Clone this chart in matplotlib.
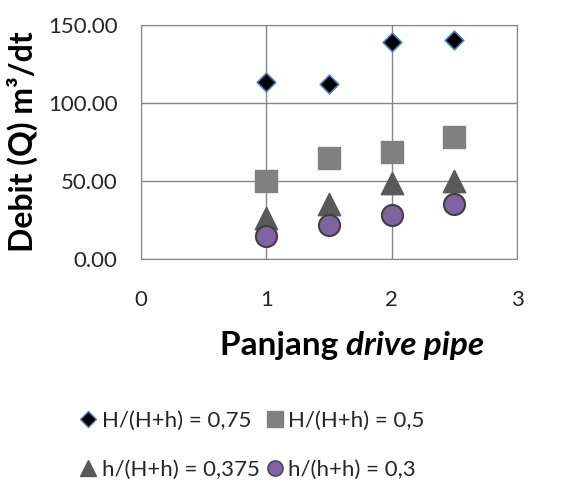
import matplotlib
matplotlib.use("Agg")
import matplotlib.pyplot as plt
from matplotlib.lines import Line2D

plt.rcParams['font.family'] = ['Lato', 'DejaVu Sans']

# pipe length (m)
pipe_length = [1, 1.5, 2, 2.5]

# debit (m3/dt) per ratio
q_075 = [113.5, 112.0, 139.0, 140.5]
q_05 = [50.0, 65.0, 68.5, 78.5]
q_0375 = [26.0, 35.0, 49.0, 50.0]
q_03 = [15.0, 21.5, 28.0, 35.5]

labels = ['H/(H+h) = 0,75', 'H/(H+h) = 0,5',
          'h/(H+h) = 0,375', 'h/(h+h) = 0,3']

fig = plt.figure(figsize=(5.69, 4.82), dpi=100)
ax = fig.add_axes([141 / 569, 1 - 259 / 482, 376 / 569, 234 / 482])

ax.scatter(pipe_length, q_075, marker='D', s=90, c='black',
           edgecolors='#4f81bd', linewidths=1.2, zorder=3)
ax.scatter(pipe_length, q_05, marker='s', s=230, c='#808080',
           edgecolors='#808080', zorder=3)
ax.scatter(pipe_length, q_0375, marker='^', s=260, c='#595959',
           edgecolors='#595959', zorder=3)
ax.scatter(pipe_length, q_03, marker='o', s=230, c='#8064a2',
           edgecolors='#3f3f3f', linewidths=1.5, zorder=4)

ax.set_xlim(0, 3)
ax.set_ylim(0, 150)
ax.set_xticks([0, 1, 2, 3])
ax.set_yticks([0, 50, 100, 150])
ax.set_yticklabels(['0.00', '50.00', '100.00', '150.00'])
ax.grid(True, color='#868686', linewidth=1)
ax.set_axisbelow(True)
for sp in ax.spines.values():
    sp.set_color('#868686')
ax.tick_params(length=0, labelsize=16, colors='#262626')
ax.tick_params(axis='y', pad=17)
ax.tick_params(axis='x', pad=22)

ax.set_ylabel('Debit (Q) m³/dt', fontsize=23, fontweight='bold', labelpad=7)

# x label: normal bold part + bold italic part, centred as a whole
t1 = fig.text(0, 1 - 345 / 482, 'Panjang ', fontsize=24, fontweight='bold', va='center')
t2 = fig.text(0, 1 - 345 / 482, 'drive pipe', fontsize=24, fontweight='bold',
              fontstyle='italic', va='center')
r = fig.canvas.get_renderer()
w1 = t1.get_window_extent(r).width
w2 = t2.get_window_extent(r).width
x0 = 352 - (w1 + w2) / 2
t1.set_x(x0 / 569)
t2.set_x((x0 + w1) / 569)

handles = [
    Line2D([], [], marker='D', ls='', color='black', markeredgecolor='#4f81bd', markersize=8),
    Line2D([], [], marker='^', ls='', color='#595959', markersize=12),
    Line2D([], [], marker='s', ls='', color='#808080', markersize=11),
    Line2D([], [], marker='o', ls='', color='#8064a2', markeredgecolor='#3f3f3f', markersize=11),
]
fig.legend(handles, [labels[0], labels[2], labels[1], labels[3]], ncol=2,
           loc='center', bbox_to_anchor=(252 / 569, 1 - 445 / 482),
           frameon=False, fontsize=16, handlelength=0.8, handletextpad=0.2,
           columnspacing=0.3, labelspacing=1.3, labelcolor='#262626')

fig.savefig('out.png', dpi=100)
